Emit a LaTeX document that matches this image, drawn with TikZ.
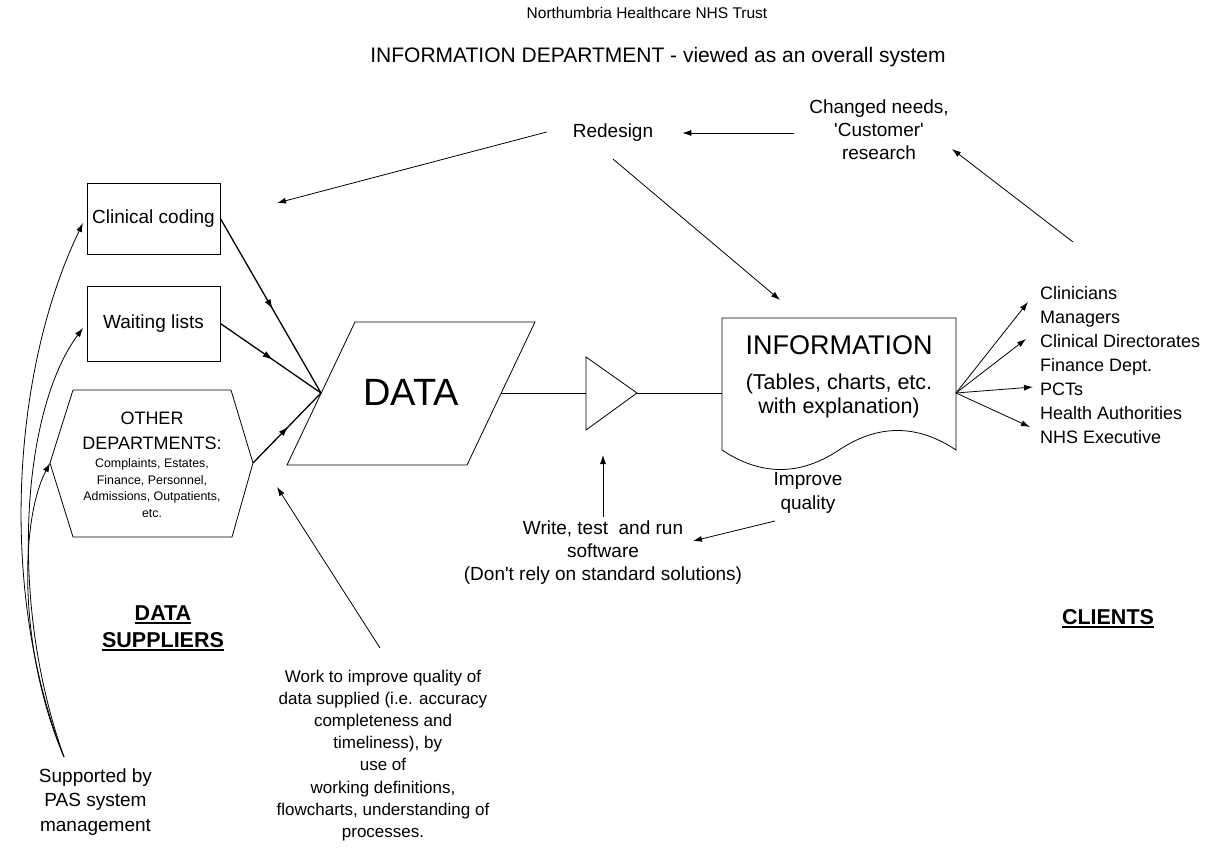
\documentclass[tikz,border=0pt]{standalone}
\usepackage{fontspec}
\setmainfont{Liberation Sans}
\usetikzlibrary{arrows.meta,decorations.markings}
\begin{document}
\begin{tikzpicture}[x=1pt,y=-1pt,
  txt/.style={font=\fontsize{19}{23}\selectfont, align=center, inner sep=0pt},
  ln/.style={line width=0.8pt},
  arr/.style={ln,-{Latex[length=9pt,width=6pt]}},
  midarr/.style={line width=1.3pt, postaction={decorate},
     decoration={markings, mark=at position 0.52 with {\arrow{Latex[length=10pt,width=6.5pt]}}}},
  boxn/.style={draw, line width=0.8pt, minimum width=133pt, minimum height=71pt, inner sep=0pt, font=\fontsize{19}{22}\selectfont},
  heading/.style={font={\fontsize{21.5}{27}\selectfont\bfseries}, inner sep=0pt},
  uline/.style={line width=1.8pt},
]
\useasboundingbox (0,0) rectangle (1219,859);

% titles
\node[txt, font=\fontsize{15.5}{18}\selectfont] (org) at (647,13) {Northumbria Healthcare NHS Trust};
\node[txt, font=\fontsize{21}{25}\selectfont] (title) at (658,57) {INFORMATION DEPARTMENT - viewed as an overall system};

% top feedback loop
\node[txt] (redesign) at (613,133) {Redesign};
\node[txt] (changed) at (879,130) {Changed needs,\\\textquotesingle Customer\textquotesingle\\research};

% supplier boxes
\node[boxn] (cc) at (153.5,218.5) {Clinical coding};
\node[boxn, minimum height=75pt] (wl) at (153.5,323.5) {Waiting lists};
\draw[ln] (73,390) -- (231,390) -- (253,463) -- (232,537) -- (73,537) -- (50,463) -- cycle;
\coordinate (othL) at (50,463);
\coordinate (othR) at (253,463);
\node[txt, font=\fontsize{18}{25}\selectfont] (oth) at (152,430.5) {OTHER\\DEPARTMENTS:};
\node[txt, font=\fontsize{12.4}{16.7}\selectfont] (othsmall) at (152,488) {Complaints, Estates,\\Finance, Personnel,\\Admissions, Outpatients,\\etc.};

% DATA parallelogram
\draw[ln] (355,322) -- (535,322) -- (467,465) -- (287,465) -- cycle;
\coordinate (dataL) at (321,393);
\coordinate (dataR) at (501,393);
\node[txt, font=\fontsize{38}{40}\selectfont] (data) at (411,392) {DATA};

% triangle (process)
\draw[ln] (586,357) -- (637,393) -- (586,430) -- cycle;
\coordinate (triL) at (586,393);
\coordinate (triR) at (637,393);
\coordinate (triB) at (603,455);

% INFORMATION document
\draw[ln] (722,450) -- (722,318) -- (956,318) -- (956,450)
  .. controls (917,424) and (878,424) .. (839,450)
  .. controls (800,476) and (761,476) .. (722,450);
\coordinate (infoL) at (722,393);
\coordinate (infoR) at (956,393);
\node[txt, font=\fontsize{27}{30}\selectfont] (info) at (839,345) {INFORMATION};
\node[txt, font=\fontsize{21.5}{24}\selectfont] (infosub) at (839,396) {(Tables, charts, etc.\\with explanation)};

% clients list
\node[txt, font=\fontsize{18}{24}\selectfont, align=left, anchor=west] (cl) at (1040,365)
 {Clinicians\\Managers\\Clinical Directorates\\Finance Dept.\\PCTs\\Health Authorities\\NHS Executive};

% lower texts
\node[txt] (write) at (603,553) {Write, test\ \ and run\\software\\(Don\textquotesingle t rely on standard solutions)};
\node[txt, font=\fontsize{19}{24}\selectfont] (improve) at (808,493) {Improve\\quality};
\node[txt, font=\fontsize{17}{22.15}\selectfont] (work) at (383,755.5)
 {Work to improve quality of\\data supplied (i.e. accuracy\\completeness and\\\ \ timeliness), by\\use of\\working definitions,\\flowcharts, understanding of\\processes.};
\node[txt, font=\fontsize{19}{24.5}\selectfont] (pas) at (95.5,802) {Supported by\\PAS system\\management};

% headings
\node[heading] (ds1) at (163,613) {DATA};
\node[heading] (ds2) at (163,640) {SUPPLIERS};
\node[heading] (clients) at (1108,617) {CLIENTS};
\foreach \n in {ds1,ds2,clients}{
  \draw[uline] ([yshift=-2.5pt]\n.south west) -- ([yshift=-2.5pt]\n.south east);
}

% connectors
\coordinate (pasTop) at (64,757);
\draw[arr] (pasTop) .. controls (-2,590) and (12,370) .. (83,223);
\draw[arr] (pasTop) .. controls (8,600) and (22,410) .. (83,328);
\draw[arr] (pasTop) .. controls (18,650) and (20,520) .. (othL);

\draw[midarr] (cc.east) -- (dataL);
\draw[midarr] (wl.east) -- (dataL);
\draw[midarr] (othR) -- (dataL);

\draw[ln] (dataR) -- (triL);
\draw[ln] (triR) -- (infoL);

\draw[arr] (changed.west |- redesign) ++(-15,0) -- ([xshift=29pt]redesign.east);
\draw[arr] ([xshift=-26pt,yshift=1pt]redesign.west) -- (277,203);
\draw[arr] ([yshift=-17pt]redesign.south) -- (780,300);
\draw[arr] (1073,242) -- (952,149);

\draw[arr] (infoR) -- (1028,302);
\draw[arr] (infoR) -- (1026,339);
\draw[arr] (infoR) -- (1033,387);
\draw[arr] (infoR) -- (1030,427);

\draw[arr] ([yshift=4pt]write.north) -- (triB);
\draw[arr] (775,521) -- (693,541);
\draw[arr] (380,648) -- (277,487);
\end{tikzpicture}
\end{document}
